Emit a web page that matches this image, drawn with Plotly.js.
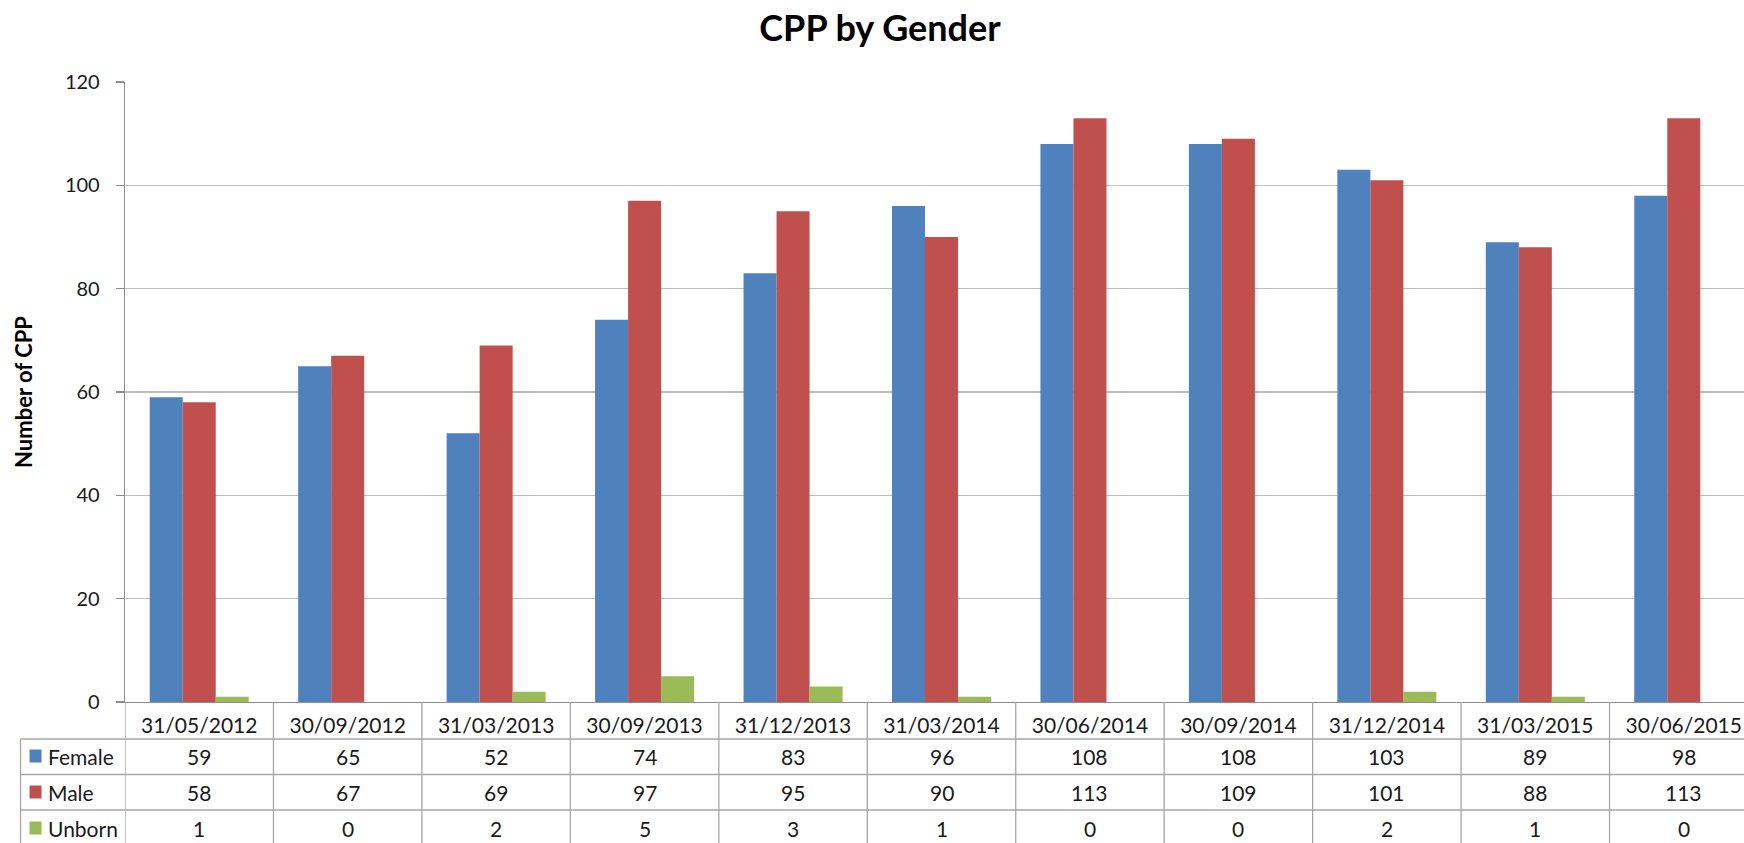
<!DOCTYPE html>
<html>
<head>
<meta charset="utf-8">
<script src="https://cdn.plot.ly/plotly-3.0.1.min.js"></script>
<style>
html,body{margin:0;padding:0;overflow:hidden;background:#fff;}
#chart{width:1780px;height:843px;}
</style>
</head>
<body>
<div id="chart"></div>
<script>
const categories = ["31/05/2012","30/09/2012","31/03/2013","30/09/2013","31/12/2013","31/03/2014","30/06/2014","30/09/2014","31/12/2014","31/03/2015","30/06/2015"];
const female = [59,65,52,74,83,96,108,108,103,89,98];
const male   = [58,67,69,97,95,90,113,109,101,88,113];
const unborn = [1,0,2,5,3,1,0,0,2,1,0];
const seriesNames = ["Female","Male","Unborn"];
const seriesColors = ["#4F81BD","#C0504D","#9BBB59"];
const seriesValues = [female, male, unborn];

const W = 1780, H = 843;
const L = 125, R = 21.5, T = 82, B = 141;
const plotW = W - L - R, plotH = H - T - B;
const px = X => (X - L) / plotW;
const py = Y => (H - B - Y) / plotH;

const FONT = "Lato, 'Open Sans', sans-serif";
const TXT = "#1a1a1a";
const GRID = "#BDBDBD";
const LINE = "#8E8E8E";
const TLINE = "#A6A6A6";

const traces = seriesNames.map((n, i) => ({
  type: "bar",
  name: n,
  x: categories,
  y: seriesValues[i],
  marker: {color: seriesColors[i], line: {width: 0}},
  hoverinfo: "x+y+name"
}));

const shapes = [];
const annotations = [];
// table column separators at category boundaries
for (let i = 0; i <= categories.length; i++) {
  shapes.push({type: "line", xref: "x", yref: "paper", x0: i - 0.5, x1: i - 0.5,
    y0: py(702), y1: py(860), line: {color: TLINE, width: 1.3}, layer: "above"});
}
// horizontal row lines
const rowTops = [739, 774.5, 810];
rowTops.forEach(Y => shapes.push({type: "line", xref: "paper", yref: "paper",
  x0: px(20.5), x1: 1.1, y0: py(Y), y1: py(Y), line: {color: TLINE, width: 1.3}}));
// left border of legend column
shapes.push({type: "line", xref: "paper", yref: "paper", x0: px(20.5), x1: px(20.5),
  y0: py(739), y1: py(860), line: {color: TLINE, width: 1.3}});

const rowCenters = [756, 792, 828];
seriesNames.forEach((n, r) => {
  const yc = rowCenters[r];
  shapes.push({type: "rect", xref: "paper", yref: "paper",
    x0: px(29.5), x1: px(41.5), y0: py(yc - 6.5), y1: py(yc + 6.5),
    fillcolor: seriesColors[r], line: {width: 0}});
  annotations.push({xref: "paper", yref: "paper", x: px(46), y: py(yc),
    xanchor: "left", yanchor: "middle", text: n, showarrow: false,
    font: {family: FONT, size: 21, color: TXT}});
  seriesValues[r].forEach((v, c) => {
    annotations.push({xref: "x", yref: "paper", x: categories[c], y: py(yc),
      xanchor: "center", yanchor: "middle", text: String(v), showarrow: false,
      font: {family: FONT, size: 21, color: TXT}});
  });
});

const layout = {
  width: W, height: H,
  margin: {l: L, r: R, t: T, b: B, autoexpand: false},
  paper_bgcolor: "#fff", plot_bgcolor: "#fff",
  showlegend: false,
  barmode: "group",
  bargap: 0.333,
  bargroupgap: 0,
  title: {text: "<b>CPP by Gender</b>", font: {family: FONT, size: 36, color: "#000"},
    xref: "container", x: 880 / W, xanchor: "center",
    yref: "container", y: 1 - 28 / H, yanchor: "middle"},
  xaxis: {type: "category", showgrid: false, zeroline: false,
    showline: true, linecolor: LINE, linewidth: 1.3, ticks: "",
    tickfont: {family: FONT, size: 21, color: TXT}, ticklabelstandoff: 4,
    automargin: false, range: [-0.5, categories.length - 0.5]},
  yaxis: {range: [0, 120], dtick: 20, tick0: 0, showgrid: true, gridcolor: GRID, gridwidth: 1.3,
    zeroline: false, showline: true, linecolor: LINE, linewidth: 1.3,
    ticks: "outside", ticklen: 8, tickcolor: LINE, tickwidth: 1.3,
    ticklabelstandoff: 12,
    tickfont: {family: FONT, size: 20, color: TXT}, automargin: false,
    title: {text: "<b>Number of CPP</b>", font: {family: FONT, size: 22, color: "#000"}, standoff: 26}},
  shapes: shapes,
  annotations: annotations
};

Plotly.newPlot("chart", traces, layout, {displayModeBar: false, staticPlot: true});
</script>
</body>
</html>
